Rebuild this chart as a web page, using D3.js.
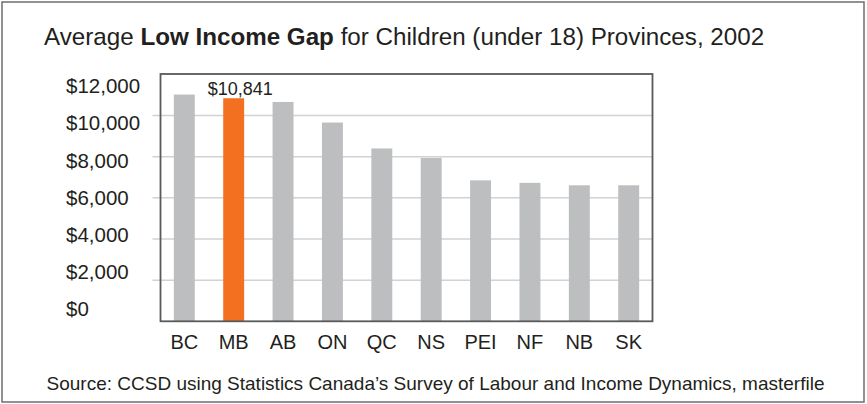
<!DOCTYPE html>
<html>
<head>
<meta charset="utf-8">
<script src="https://cdn.jsdelivr.net/npm/d3@7"></script>
<style>
  html, body { margin: 0; padding: 0; background: #fff; }
  svg { display: block; font-family: "Liberation Sans", Arial, Helvetica, sans-serif; }
</style>
</head>
<body>
<svg id="chart" width="867" height="404"></svg>
<script>
// Provinces and their average low income gap for children, 2002
const provinces = ["BC", "MB", "AB", "ON", "QC", "NS", "PEI", "NF", "NB", "SK"];
const gapValues = [11020, 10841, 10660, 9660, 8400, 7940, 6850, 6730, 6610, 6610];
const highlighted = ["MB"];
const yTicks = [0, 2000, 4000, 6000, 8000, 10000, 12000];
const yTickLabels = ["$0", "$2,000", "$4,000", "$6,000", "$8,000", "$10,000", "$12,000"];

const svg = d3.select("#chart");
const W = 867, H = 404;
const plot = { left: 160.5, right: 652.5, top: 74, bottom: 321.3 };
const ink = "#231f20";

// outer frame
svg.append("rect")
  .attr("x", 2).attr("y", 2).attr("width", W - 5).attr("height", H - 4)
  .attr("fill", "#fff").attr("stroke", "#6d6e71").attr("stroke-width", 1.5);

// title
const title = svg.append("text")
  .attr("x", 44).attr("y", 45)
  .attr("font-size", 24.2).attr("fill", ink);
title.append("tspan").text("Average ");
title.append("tspan").attr("font-weight", "bold").text("Low Income Gap");
title.append("tspan").text(" for Children (under 18) Provinces, 2002");

const x = d3.scaleBand()
  .domain(provinces)
  .range([plot.left, plot.right])
  .paddingInner(0.576)
  .paddingOuter(0.27);

const y = d3.scaleLinear()
  .domain([0, 12000])
  .range([plot.bottom, plot.top + 0.4]);

// tick labels sit on their own evenly spaced column to the left
const yLabel = d3.scaleLinear()
  .domain([0, 12000])
  .range([316, 93.3]);

// gridlines with short ticks poking out to the left
svg.append("g")
  .selectAll("line")
  .data(yTicks.filter(d => d > 0 && d < 12000))
  .join("line")
  .attr("x1", plot.left - 8).attr("x2", plot.right)
  .attr("y1", d => y(d)).attr("y2", d => y(d))
  .attr("stroke", "#d1d2d4").attr("stroke-width", 1.5);

svg.append("g")
  .selectAll("text")
  .data(yTicks)
  .join("text")
  .attr("x", 66)
  .attr("y", d => yLabel(d))
  .attr("font-size", 20.5).attr("fill", ink)
  .text((d, i) => yTickLabels[i]);

// bars
const data = provinces.map((p, i) => ({ p, v: gapValues[i] }));
svg.append("g")
  .selectAll("rect")
  .data(data)
  .join("rect")
  .attr("x", d => x(d.p))
  .attr("width", x.bandwidth())
  .attr("y", d => y(d.v))
  .attr("height", d => y(0) - y(d.v))
  .attr("fill", d => highlighted.includes(d.p) ? "#f37021" : "#bcbec0");

// value label for the highlighted province
data.filter(d => highlighted.includes(d.p)).forEach(d => {
  svg.append("text")
    .attr("x", x(d.p) + x.bandwidth() / 2 + 6.5)
    .attr("y", y(d.v) - 3)
    .attr("text-anchor", "middle")
    .attr("font-size", 18).attr("fill", ink)
    .text(d3.format("$,")(d.v));
});

// plot border
svg.append("rect")
  .attr("x", plot.left).attr("y", plot.top)
  .attr("width", plot.right - plot.left).attr("height", plot.bottom - plot.top)
  .attr("fill", "none").attr("stroke", "#58595b").attr("stroke-width", 1.8);

// category axis
const xAxis = svg.append("g")
  .attr("transform", `translate(0,${plot.bottom})`)
  .call(d3.axisBottom(x).tickSize(0).tickPadding(14));
xAxis.select(".domain").remove();
xAxis.selectAll("text")
  .attr("font-family", "Liberation Sans, Arial, sans-serif")
  .attr("font-size", 20).attr("fill", ink)
  .attr("dy", "0.71em");

// source note
svg.append("text")
  .attr("x", 435.5).attr("y", 390)
  .attr("text-anchor", "middle")
  .attr("font-size", 19).attr("fill", ink)
  .text("Source: CCSD using Statistics Canada’s Survey of Labour and Income Dynamics, masterfile");
</script>
</body>
</html>
